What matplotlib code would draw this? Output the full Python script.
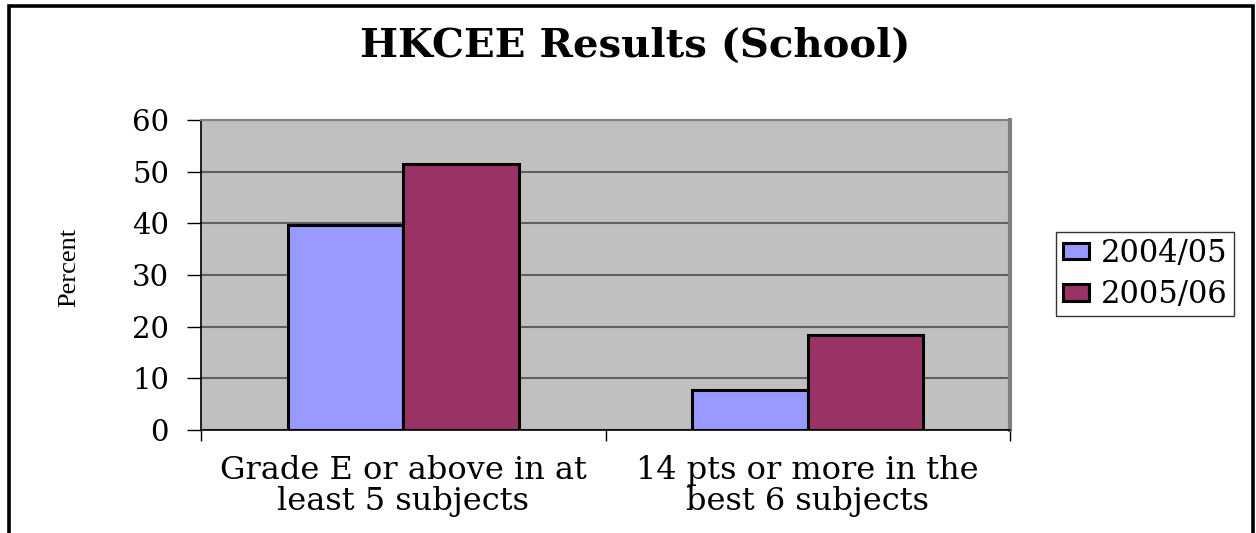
import matplotlib
matplotlib.use("Agg")
import matplotlib.pyplot as plt
from matplotlib.lines import Line2D
import numpy as np

categories = ["Grade E or above in at\nleast 5 subjects", "14 pts or more in the\nbest 6 subjects"]
series_names = ["2004/05", "2005/06"]
values_2004 = [39.7, 7.8]
values_2005 = [51.5, 18.3]
colors = ["#9999FF", "#993366"]
yticks = [0, 10, 20, 30, 40, 50, 60]

W, H = 1256, 533
fig = plt.figure(figsize=(W / 100, H / 100), dpi=100)
fig.patch.set_facecolor("white")

serif = ["Liberation Serif", "DejaVu Serif"]

# outer chart border (left, top, right visible)
fig.add_artist(Line2D([8.5 / W, 8.5 / W, 1253 / W, 1253 / W],
                      [0, 1 - 6 / H, 1 - 6 / H, 0],
                      transform=fig.transFigure, color="black", lw=2.6,
                      solid_joinstyle="miter"))

ax = fig.add_axes([201 / W, 1 - 430 / H, (1010 - 201) / W, (430 - 120) / H])
ax.set_facecolor("#C0C0C0")

x = np.arange(len(categories))
bw = 1 / 3.5
ax.bar(x - bw / 2, values_2004, bw, color=colors[0], edgecolor="black", lw=2.2, zorder=3, label=series_names[0])
ax.bar(x + bw / 2, values_2005, bw, color=colors[1], edgecolor="black", lw=2.2, zorder=3, label=series_names[1])

ax.set_xlim(-0.5, len(categories) - 0.5)
ax.set_ylim(0, 60)
ax.set_yticks(yticks)
ax.set_yticklabels([str(t) for t in yticks], fontfamily="DejaVu Serif", fontsize=21)
ax.yaxis.grid(True, color="#606060", lw=1.5, zorder=1)
ax.set_axisbelow(True)

ax.set_xticks(x)
ax.set_xticklabels(categories, fontfamily="DejaVu Serif", fontsize=23, linespacing=1.0)
ax.tick_params(axis="x", length=0, pad=18)
ax.set_xticks([-0.5, 0.5, 1.5], minor=True)
ax.tick_params(axis="x", which="minor", length=8, width=1, direction="out", color="black")
ax.tick_params(axis="y", length=10, width=1, direction="out", color="black", pad=13)

for s in ["top", "right"]:
    ax.spines[s].set_color("#808080")
ax.spines["top"].set_linewidth(1.5)
ax.spines["right"].set_linewidth(3)
ax.spines["left"].set_color("black")
ax.spines["left"].set_linewidth(1.2)
ax.spines["bottom"].set_color("black")
ax.spines["bottom"].set_linewidth(1.2)

fig.text(69 / W, 1 - 267 / H, "Percent", rotation=90, ha="center", va="center",
         fontfamily=serif, fontsize=19)

fig.text(635 / W, 1 - 46 / H, "HKCEE Results (School)", ha="center", va="center",
         fontfamily="DejaVu Serif", fontweight="bold", fontsize=29)

leg = fig.legend(loc="center", bbox_to_anchor=(1145 / W, 1 - 274 / H),
                 prop={"family": "DejaVu Serif", "size": 22}, frameon=True,
                 fancybox=False, edgecolor="black", handlelength=0.85, handleheight=0.45,
                 handletextpad=0.4, borderpad=0.2, borderaxespad=0, labelspacing=0.35)
leg.get_frame().set_linewidth(1.0)

fig.savefig("out.png", dpi=100, facecolor="white")
